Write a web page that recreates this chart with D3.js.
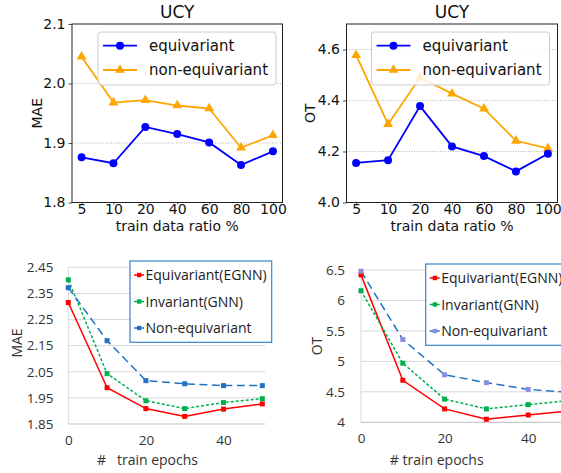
<!DOCTYPE html>
<html>
<head>
<meta charset="utf-8">
<script src="https://cdn.jsdelivr.net/npm/d3@7"></script>
<style>
body { margin: 0; background: #fff; }
</style>
</head>
<body>
<div id="wrapper"></div>
<script>
// top row: error vs. train data ratio
const ratioLabels = ["5", "10", "20", "40", "60", "80", "100"];
const maeEquivariant = [1.876, 1.866, 1.927, 1.915, 1.901, 1.863, 1.886];
const maeNonEquivariant = [2.045, 1.968, 1.972, 1.963, 1.958, 1.892, 1.913];
const otEquivariant = [4.155, 4.166, 4.378, 4.220, 4.182, 4.122, 4.191];
const otNonEquivariant = [4.578, 4.307, 4.490, 4.427, 4.368, 4.242, 4.212];

// bottom row: error vs. train epochs
const epochs = [0, 10, 20, 30, 40, 50];
const maeEGNN = [2.315, 1.989, 1.909, 1.879, 1.907, 1.927];
const maeGNN = [2.402, 2.043, 1.939, 1.909, 1.932, 1.947];
const maeNonEq = [2.372, 2.169, 2.016, 2.004, 1.997, 1.997];
const otEGNN = [6.42, 4.69, 4.22, 4.05, 4.12, 4.19];
const otGNN = [6.16, 4.97, 4.38, 4.22, 4.29, 4.36];
const otNonEq = [6.48, 5.36, 4.78, 4.65, 4.54, 4.49];

const svg = d3.select("#wrapper").append("svg")
    .attr("width", 561)
    .attr("height", 473);

const mplFont = "DejaVu Sans";
const xlFont = "Open Sans";

function drawTop(opt) {
    const x = d3.scalePoint()
        .domain(ratioLabels)
        .range([opt.left, opt.right])
        .padding(0.3);
    const y = d3.scaleLinear()
        .domain(opt.yDomain)
        .range([opt.bottom, opt.top]);

    // dotted grid
    svg.append("g").selectAll("line")
        .data(opt.yTicks.filter(t => y(t) > opt.top + 1 && y(t) < opt.bottom - 1))
        .join("line")
        .attr("x1", opt.left).attr("x2", opt.right)
        .attr("y1", d => y(d)).attr("y2", d => y(d))
        .attr("stroke", "#a0a0a0")
        .attr("stroke-width", 0.8)
        .attr("stroke-dasharray", "1 1.6");

    const yAxis = svg.append("g")
        .attr("transform", `translate(${opt.left},0)`)
        .call(d3.axisLeft(y).tickValues(opt.yTicks).tickFormat(d3.format(".1f")).tickSize(3.5).tickPadding(3));
    const xAxis = svg.append("g")
        .attr("transform", `translate(0,${opt.bottom})`)
        .call(d3.axisBottom(x).tickSize(2).tickPadding(0));
    [yAxis, xAxis].forEach(g => {
        g.select(".domain").remove();
        g.attr("font-family", mplFont).attr("font-size", 14);
        g.selectAll("line").attr("stroke", "#222").attr("stroke-width", 0.8);
        g.selectAll("text").attr("fill", "#111");
    });

    // frame
    svg.append("rect")
        .attr("x", opt.left).attr("y", opt.top)
        .attr("width", opt.right - opt.left)
        .attr("height", opt.bottom - opt.top)
        .attr("fill", "none")
        .attr("stroke", "#222")
        .attr("stroke-width", 1);

    const line = d3.line()
        .x((d, i) => x(ratioLabels[i]))
        .y(d => y(d));

    const series = [
        { name: "equivariant", values: opt.equiv, color: "#0000ff", symbol: d3.symbolCircle, size: 50 },
        { name: "non-equivariant", values: opt.nonEquiv, color: "#ffa500", symbol: d3.symbolTriangle, size: 42 }
    ];

    series.slice().reverse().forEach(s => {
        svg.append("path")
            .attr("fill", "none")
            .attr("stroke", s.color)
            .attr("stroke-width", 1.8)
            .attr("d", line(s.values));
        svg.append("g").selectAll("path")
            .data(s.values)
            .join("path")
            .attr("transform", (d, i) => `translate(${x(ratioLabels[i])},${y(d)})`)
            .attr("d", d3.symbol(s.symbol, s.size))
            .attr("fill", s.color);
    });

    // legend
    const lg = svg.append("g").attr("transform", `translate(${opt.legendX},32)`);
    lg.append("rect")
        .attr("width", 178).attr("height", 53)
        .attr("rx", 3)
        .attr("fill", "#fff").attr("fill-opacity", 0.8)
        .attr("stroke", "#cccccc");
    series.forEach((s, i) => {
        const yy = 13.7 + i * 24.3;
        lg.append("line")
            .attr("x1", 5).attr("x2", 39)
            .attr("y1", yy).attr("y2", yy)
            .attr("stroke", s.color).attr("stroke-width", 1.8);
        lg.append("path")
            .attr("transform", `translate(22,${yy})`)
            .attr("d", d3.symbol(s.symbol, s.size))
            .attr("fill", s.color);
        lg.append("text")
            .attr("x", 51).attr("y", yy).attr("dy", "0.35em")
            .attr("font-family", mplFont).attr("font-size", 15)
            .attr("fill", "#111")
            .text(s.name);
    });

    // titles
    svg.append("text")
        .attr("x", (opt.left + opt.right) / 2).attr("y", 18.3)
        .attr("text-anchor", "middle")
        .attr("font-family", mplFont).attr("font-size", 17)
        .attr("fill", "#111")
        .text("UCY");
    svg.append("text")
        .attr("x", (opt.left + opt.right) / 2).attr("y", 231)
        .attr("text-anchor", "middle")
        .attr("font-family", mplFont).attr("font-size", 14)
        .attr("fill", "#111")
        .text("train data ratio %");
    svg.append("text")
        .attr("transform", `translate(${opt.yLabelX},${(opt.top + opt.bottom) / 2}) rotate(-90)`)
        .attr("text-anchor", "middle")
        .attr("font-family", mplFont).attr("font-size", 14)
        .attr("fill", "#111")
        .text(opt.yLabel);
}

function drawBottom(opt) {
    const x = d3.scaleLinear()
        .domain([0, 50])
        .range([opt.left, opt.left + opt.step * 5]);
    const y = d3.scaleLinear()
        .domain(opt.yDomain)
        .range([opt.bottom, opt.top]);

    svg.append("g").selectAll("line")
        .data(opt.yTicks.slice(1))
        .join("line")
        .attr("x1", opt.left).attr("x2", opt.gridRight)
        .attr("y1", d => y(d)).attr("y2", d => y(d))
        .attr("stroke", "#d9d9d9")
        .attr("stroke-width", 1);
    svg.append("line")
        .attr("x1", opt.left).attr("x2", opt.left)
        .attr("y1", opt.top).attr("y2", opt.bottom)
        .attr("stroke", "#d9d9d9");
    svg.append("line")
        .attr("x1", opt.left).attr("x2", opt.gridRight)
        .attr("y1", opt.bottom).attr("y2", opt.bottom)
        .attr("stroke", "#bfbfbf");

    const yAxis = svg.append("g")
        .attr("transform", `translate(${opt.left},0)`)
        .call(d3.axisLeft(y).tickValues(opt.yTicks).tickFormat(opt.fmt).tickSize(0).tickPadding(opt.left - opt.tickRight));
    const xAxis = svg.append("g")
        .attr("transform", `translate(0,${opt.bottom})`)
        .call(d3.axisBottom(x).tickValues([0, 20, 40]).tickSize(0).tickPadding(11.5));
    [yAxis, xAxis].forEach(g => {
        g.select(".domain").remove();
        g.attr("font-family", xlFont).attr("font-size", 13.5);
        g.selectAll("text").attr("fill", "#333");
    });

    const line = d3.line()
        .x((d, i) => x(epochs[i]))
        .y(d => y(d));

    const series = [
        { name: "Equivariant(EGNN)", values: opt.egnn, color: "#ff0000", dash: null, mark: "#ff0000" },
        { name: "Invariant(GNN)", values: opt.gnn, color: "#00b050", dash: "3 2", mark: "#00b050" },
        { name: "Non-equivariant", values: opt.nonEq, color: "#2272c3", dash: "8 4.5", mark: opt.blueMark }
    ];

    series.forEach(s => {
        svg.append("path")
            .attr("fill", "none")
            .attr("stroke", s.color)
            .attr("stroke-width", 1.5)
            .attr("stroke-dasharray", s.dash)
            .attr("d", line(s.values));
    });
    series.forEach(s => {
        svg.append("g").selectAll("rect")
            .data(s.values)
            .join("rect")
            .attr("x", (d, i) => x(epochs[i]) - 2.5)
            .attr("y", d => y(d) - 2.5)
            .attr("width", 5).attr("height", 5)
            .attr("fill", s.mark);
    });

    // legend
    const lg = svg.append("g").attr("transform", `translate(${opt.legendX},${opt.legendY})`);
    lg.append("rect")
        .attr("width", 141.7).attr("height", 81.3)
        .attr("fill", "#fff")
        .attr("stroke", "#3b82c8")
        .attr("stroke-width", 1.2);
    series.forEach((s, i) => {
        const yy = 14 + i * 26.5;
        lg.append("line")
            .attr("x1", 4).attr("x2", 14)
            .attr("y1", yy).attr("y2", yy)
            .attr("stroke", s.color).attr("stroke-width", 1.5);
        lg.append("rect")
            .attr("x", 7).attr("y", yy - 2.2)
            .attr("width", 4.4).attr("height", 4.4)
            .attr("fill", s.mark);
        lg.append("text")
            .attr("x", 15.5).attr("y", yy).attr("dy", "0.36em")
            .attr("font-family", xlFont).attr("font-size", 14)
            .attr("fill", "#222")
            .text(s.name);
    });

    svg.append("text")
        .attr("x", opt.xLabelX).attr("y", 465)
        .attr("text-anchor", "middle")
        .attr("font-family", xlFont).attr("font-size", 14)
        .attr("fill", "#333")
        .style("white-space", "pre")
        .text(opt.xLabel);
    svg.append("text")
        .attr("transform", `translate(${opt.yLabelX},${opt.yLabelY}) rotate(-90)`)
        .attr("text-anchor", "middle")
        .attr("font-family", xlFont).attr("font-size", 14)
        .attr("fill", "#333")
        .text(opt.yLabel);
}

drawTop({
    left: 72, right: 282.5, top: 24, bottom: 202.5,
    yDomain: [1.8, 2.1], yTicks: [1.8, 1.9, 2.0, 2.1],
    equiv: maeEquivariant, nonEquiv: maeNonEquivariant,
    legendX: 98, yLabel: "MAE", yLabelX: 41.5
});
drawTop({
    left: 346.5, right: 557.5, top: 24, bottom: 202.5,
    yDomain: [4.0, 4.7], yTicks: [4.0, 4.2, 4.4, 4.6],
    equiv: otEquivariant, nonEquiv: otNonEquivariant,
    legendX: 371.5, yLabel: "OT", yLabelX: 315
});
drawBottom({
    left: 68.3, step: 38.8, top: 267.3, bottom: 424, gridRight: 265,
    yDomain: [1.85, 2.45], yTicks: [1.85, 1.95, 2.05, 2.15, 2.25, 2.35, 2.45],
    fmt: d3.format(".2f"), tickRight: 53.5,
    egnn: maeEGNN, gnn: maeGNN, nonEq: maeNonEq, blueMark: "#2272c3",
    legendX: 130, legendY: 261,
    xLabel: "#   train epochs", xLabelX: 147.5,
    yLabel: "MAE", yLabelX: 21.5, yLabelY: 343
});
drawBottom({
    left: 361, step: 41.8, top: 270, bottom: 422.3, gridRight: 561,
    yDomain: [4, 6.5], yTicks: [4, 4.5, 5, 5.5, 6, 6.5],
    fmt: d3.format("~g"), tickRight: 345,
    egnn: otEGNN, gnn: otGNN, nonEq: otNonEq, blueMark: "#8d8de0",
    legendX: 425.7, legendY: 264,
    xLabel: "# train epochs", xLabelX: 436.7,
    yLabel: "OT", yLabelX: 321.5, yLabelY: 346
});
</script>
</body>
</html>
